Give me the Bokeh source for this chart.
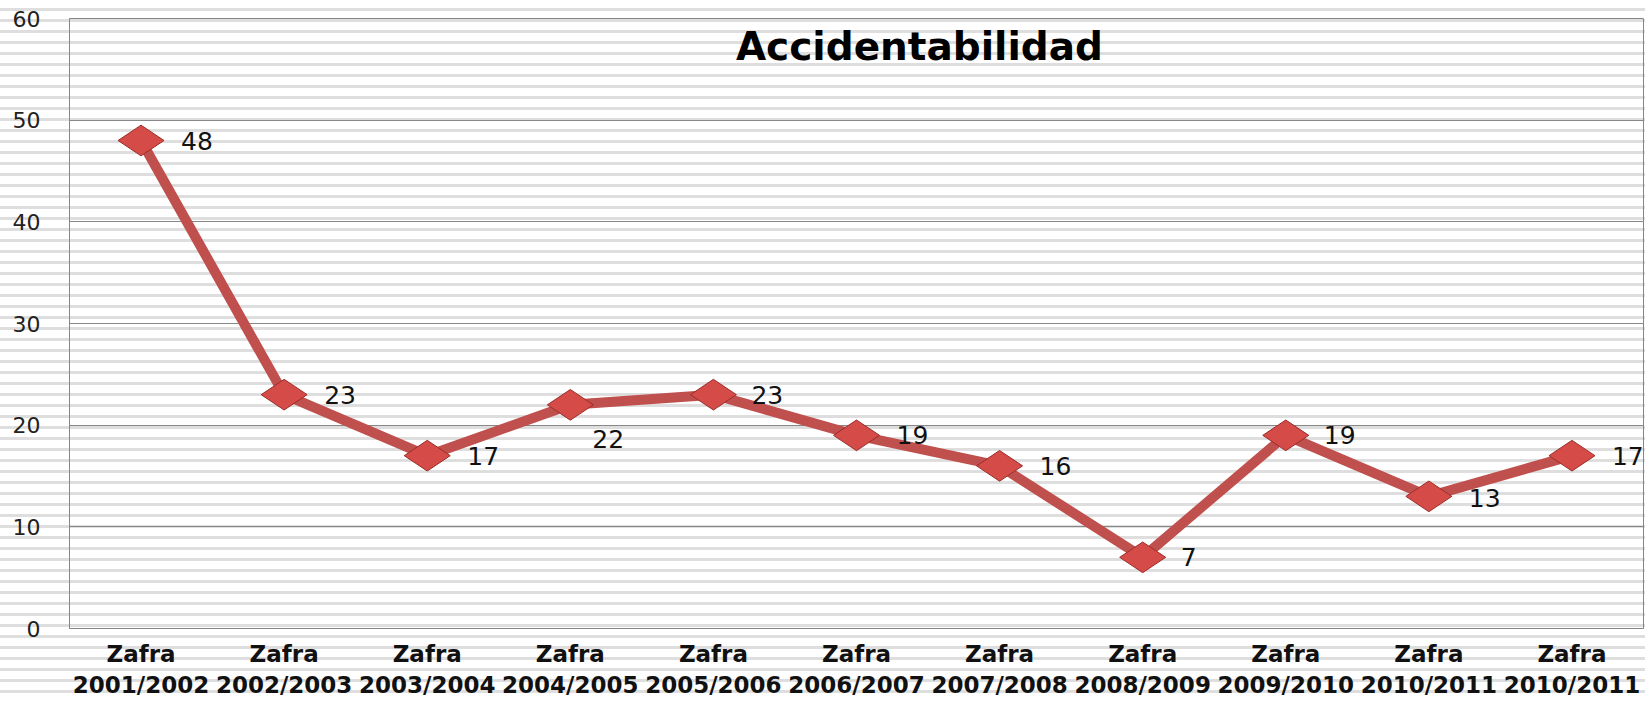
import math
from bokeh.plotting import figure
from bokeh.models import Range1d, FixedTicker, ColumnDataSource, Label
from bokeh.embed import file_html
from bokeh.resources import INLINE
from bokeh.core.properties import value

# ---- data ----
prefix = "Zafra"
seasons = ["2001/2002", "2002/2003", "2003/2004", "2004/2005", "2005/2006",
           "2006/2007", "2007/2008", "2008/2009", "2009/2010", "2010/2011", "2010/2011"]
accidents = [48, 23, 17, 22, 23, 19, 16, 7, 19, 13, 17]
y_ticks = [0, 10, 20, 30, 40, 50, 60]
title_text = "Accidentabilidad"

# label placement (pixels)
label_dx = [40, 40, 40, 22, 38, 40, 40, 38, 38, 40, 40]
label_dy = [0, 0, 0, 34, 0, 0, 0, 0, 0, 2, 0]

n = len(seasons)
xs = [i + 0.5 for i in range(n)]

src = ColumnDataSource(dict(
    x=xs, y=accidents, txt=[str(v) for v in accidents], dx=label_dx, dy=label_dy))

p = figure(width=1645, height=700, x_range=Range1d(0, n), y_range=Range1d(0, 60),
           output_backend="svg", toolbar_location=None,
           min_border_left=69, min_border_right=2, min_border_top=18, min_border_bottom=70)

p.background_fill_alpha = 0
p.border_fill_alpha = 0
p.styles = {"background": "repeating-linear-gradient(to bottom, #ffffff 0px, #ffffff 8px, #dedede 8px, #dedede 11px)"}
p.outline_line_color = "#868686"
p.outline_line_width = 1

for ax in (p.xaxis, p.yaxis):
    ax.major_tick_line_color = None
    ax.minor_tick_line_color = None
    ax.major_tick_out = 0
    ax.major_tick_in = 0
    ax.minor_tick_out = 0
    ax.minor_tick_in = 0
    ax.axis_line_color = "#868686"
    ax.major_label_text_font = "DejaVu Sans"

# axes
p.xaxis.ticker = FixedTicker(ticks=xs)
p.xaxis.major_label_overrides = {x: f"{prefix}\n{s}" for x, s in zip(xs, seasons)}
p.xaxis.major_label_text_font_style = "bold"
p.xaxis.major_label_text_font_size = "23px"
p.xaxis.major_label_text_color = "#111111"
p.xaxis.major_label_standoff = 12

p.yaxis.ticker = FixedTicker(ticks=y_ticks)
p.yaxis.major_label_text_font_size = "22px"
p.yaxis.major_label_text_color = "#222222"
p.yaxis.major_label_standoff = 29

p.xgrid.grid_line_color = None
p.ygrid.grid_line_color = "#888888"
p.ygrid.grid_line_width = 1

# series
p.line("x", "y", source=src, line_width=10, line_color="#c0504d", line_join="round")
p.scatter("x", "y", source=src, marker="diamond", size=46, angle=math.pi / 2,
          fill_color="#d54b47", line_color="#9a2d2a", line_width=1)
p.text("x", "y", text="txt", source=src, x_offset="dx", y_offset="dy",
       text_align="left", text_baseline="middle", text_font_size="25px",
       text_font=value("DejaVu Sans"), text_color="#111111")

p.add_layout(Label(x=5.94, y=57.2, text=title_text, text_align="center",
                   text_baseline="middle", text_font="DejaVu Sans",
                   text_font_style="bold", text_font_size="39px", text_color="#000000"))

open("out.html", "w").write(file_html(p, INLINE))
